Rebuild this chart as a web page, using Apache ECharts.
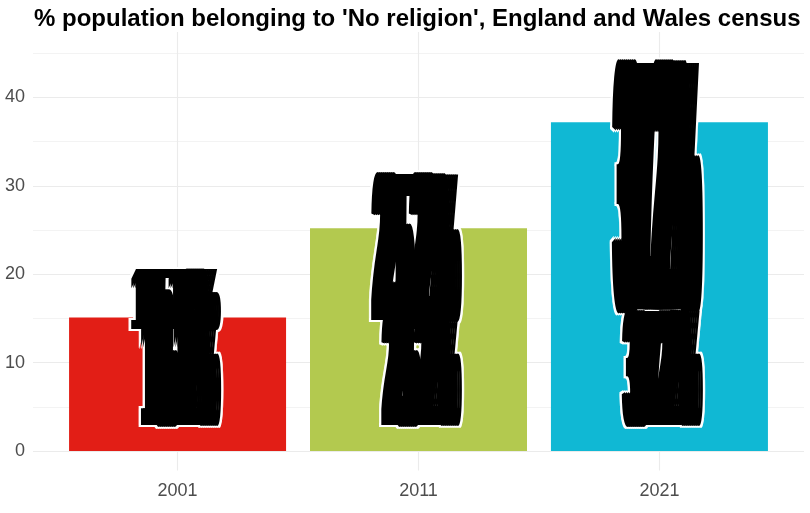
<!DOCTYPE html>
<html><head><meta charset="utf-8">
<script src="https://cdn.jsdelivr.net/npm/echarts@6/dist/echarts.min.js"></script>
<style>html,body{margin:0;padding:0;background:#fff}#c{width:810px;height:513px}</style>
</head><body><div id="c"></div>
<script>
const years = ['2001', '2011', '2021'];
const positions = [1, 2, 3];
const values = [15.1, 25.2, 37.2];
const labels = ['15.1%', '25.2%', '37.2%'];
const colors = ['#E21E16', '#B3C94F', '#10B8D4'];
const yTicks = [0, 10, 20, 30, 40];
const yMinor = [5, 15, 25, 35, 45];

const FONT = 'Liberation Sans, Arial, sans-serif';
const gridColor = '#ebebeb';
const LF = 32;
const labelFont = 'bold ' + LF + 'px "Liberation Sans", Arial, sans-serif';
const mctx = document.createElement('canvas').getContext('2d');
mctx.font = labelFont;
const SMEAR = 16;

function textEl(txt, x, y, sX, sY, fill, stroke, lw) {
  return {
    type: 'text', x: x, y: y, scaleX: sX, scaleY: sY,
    style: {
      text: txt, font: labelFont, fill: fill,
      stroke: stroke || null, lineWidth: lw || 0,
      align: 'left', verticalAlign: 'top'
    }
  };
}

function stretchedText(txt, left, right, t, b) {
  const w = mctx.measureText(txt).width;
  const sX = (right - left - SMEAR) / w;
  const sY = (b - t) / (0.72 * LF);
  const y = t - 0.13 * LF * sY;
  const white = [], black = [];
  for (let dx = -2; dx <= SMEAR + 2; dx += 2) {
    white.push(textEl(txt, left + dx, y, sX, sY, '#fff', '#fff', 4 / sY));
  }
  for (let dx = 0; dx <= SMEAR; dx += 2) {
    black.push(textEl(txt, left + dx, y, sX, sY, '#000'));
  }
  return { white, black };
}

function renderLabel(params, api) {
  const x = api.value(0), v = api.value(1);
  const txt = labels[params.dataIndex];
  const top = api.coord([x, v + 5]);
  const mid = api.coord([x, 14.6]);
  const bot = api.coord([x, 1.6]);
  const unit = api.size([1, 0])[0];
  const cx = top[0];
  const a = stretchedText(txt, cx - 0.2 * unit, cx + 0.183 * unit, top[1], mid[1] + 14);
  const b = stretchedText(txt, cx - 0.158 * unit, cx + 0.183 * unit, mid[1] - 4, bot[1]);
  return {
    type: 'group',
    children: [...a.white, ...b.white, ...a.black, ...b.black]
  };
}

const chart = echarts.init(document.getElementById('c'));
chart.setOption({
  animation: false,
  backgroundColor: '#fff',
  title: {
    text: "% population belonging to 'No religion', England and Wales census",
    left: 29, top: 2,
    textStyle: { fontFamily: FONT, fontWeight: 'bold', fontSize: 24, color: '#000' }
  },
  grid: { left: 33, right: 6, top: 32, bottom: 42.6 },
  xAxis: {
    type: 'value', min: 0.4, max: 3.6,
    axisLine: { show: false },
    axisTick: { show: false, customValues: positions },
    splitLine: { show: false },
    axisLabel: {
      customValues: positions,
      formatter: v => years[Math.round(v) - 1],
      color: '#4d4d4d', fontSize: 18, fontFamily: FONT, margin: 12
    }
  },
  yAxis: {
    type: 'value', min: -2.2, max: 47.4,
    axisLine: { show: false },
    axisTick: { show: false, customValues: yTicks },
    splitLine: { show: false },
    axisLabel: {
      customValues: yTicks,
      color: '#4d4d4d', fontSize: 18, fontFamily: FONT, margin: 8
    }
  },
  series: [
    {
      type: 'scatter', data: [], z: 1, silent: true,
      markLine: {
        silent: true, symbol: 'none', z: 1, animation: false,
        label: { show: false },
        lineStyle: { color: gridColor, type: 'solid' },
        emphasis: { disabled: true },
        data: [
          ...yMinor.map(v => ({ yAxis: v, lineStyle: { width: 0.6, color: gridColor, type: 'solid' } })),
          ...yTicks.map(v => ({ yAxis: v, lineStyle: { width: 1.1, color: gridColor, type: 'solid' } })),
          ...positions.map(v => ({ xAxis: v, lineStyle: { width: 1.1, color: gridColor, type: 'solid' } }))
        ]
      }
    },
    {
      type: 'bar', z: 10, barWidth: 217,
      data: positions.map((p, i) => ({ value: [p, values[i]], itemStyle: { color: colors[i] } }))
    },
    {
      type: 'custom', z: 20,
      renderItem: renderLabel,
      data: positions.map((p, i) => [p, values[i]])
    }
  ]
});
</script>
</body></html>
